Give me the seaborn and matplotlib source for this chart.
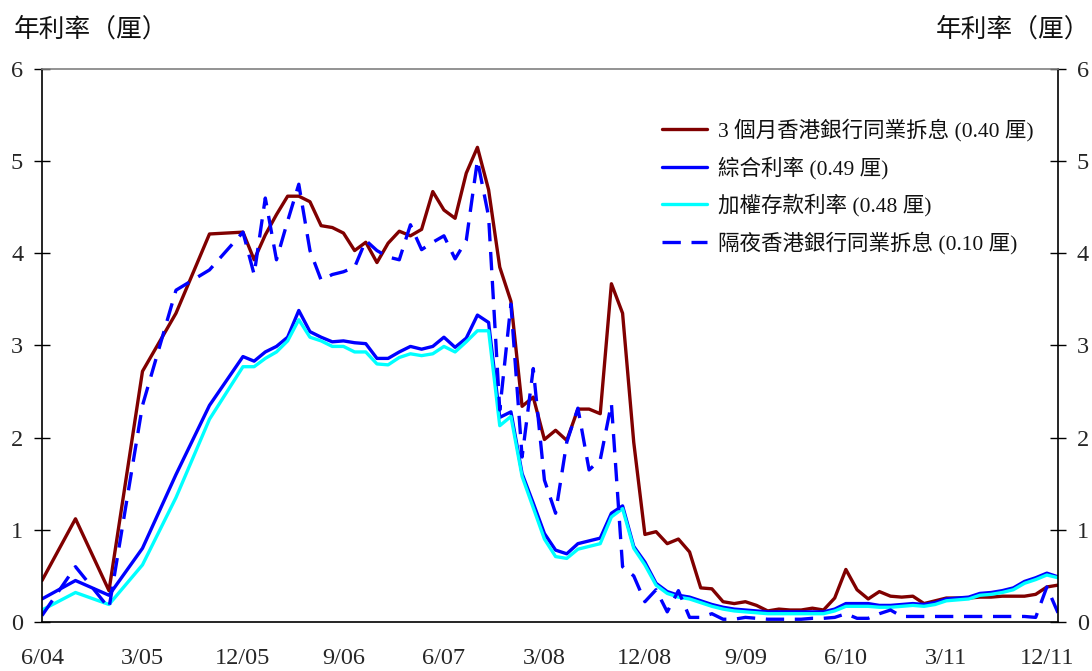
import matplotlib
matplotlib.use("Agg")
import matplotlib.pyplot as plt
import seaborn as sns
import pandas as pd
import numpy as np
from matplotlib.ticker import FixedLocator

# ---------------- data ----------------
periods = (["2004-06", "2004-09", "2004-12", "2005-03", "2005-06", "2005-09"] +
           [f"{y}-{m:02d}" for y in range(2005, 2013) for m in range(1, 13)
            if (y, m) >= (2005, 12) and (y, m) <= (2012, 1)])

hibor_3m = [0.45, 1.12, 0.34, 2.72, 3.35, 4.21,
            4.23, 3.93, 4.20, 4.42, 4.62, 4.62, 4.56, 4.30, 4.28, 4.22, 4.03, 4.12,
            3.90, 4.11, 4.24, 4.19, 4.26, 4.67, 4.47, 4.38, 4.87, 5.15, 4.69, 3.85,
            3.48, 2.34, 2.44, 1.98, 2.08, 1.97, 2.31, 2.31, 2.26, 3.67, 3.35, 1.95,
            0.95, 0.98, 0.85, 0.90, 0.76, 0.37, 0.36, 0.22, 0.20, 0.22, 0.18, 0.12,
            0.14, 0.13, 0.13, 0.15, 0.13, 0.26, 0.57, 0.35, 0.25, 0.33, 0.28, 0.27,
            0.28, 0.20, 0.23, 0.26, 0.26, 0.26, 0.27, 0.27, 0.28, 0.28, 0.28, 0.30,
            0.38, 0.40]

composite = [0.25, 0.45, 0.29, 0.80, 1.60, 2.35,
             2.88, 2.83, 2.93, 2.99, 3.09, 3.38, 3.15, 3.09, 3.04, 3.05, 3.03, 3.02,
             2.86, 2.86, 2.93, 2.99, 2.96, 2.99, 3.09, 2.98, 3.08, 3.33, 3.25, 2.22,
             2.28, 1.61, 1.29, 0.96, 0.78, 0.74, 0.85, 0.88, 0.91, 1.18, 1.26, 0.82,
             0.65, 0.42, 0.33, 0.29, 0.27, 0.23, 0.19, 0.16, 0.14, 0.13, 0.12, 0.11,
             0.11, 0.11, 0.11, 0.11, 0.11, 0.14, 0.20, 0.20, 0.20, 0.18, 0.18, 0.19,
             0.20, 0.19, 0.21, 0.25, 0.26, 0.27, 0.31, 0.32, 0.34, 0.37, 0.44, 0.48,
             0.53, 0.49]

deposit = [0.13, 0.32, 0.19, 0.62, 1.35, 2.20,
           2.77, 2.77, 2.86, 2.93, 3.05, 3.28, 3.09, 3.05, 2.99, 2.99, 2.93, 2.93,
           2.80, 2.79, 2.87, 2.91, 2.89, 2.91, 2.99, 2.93, 3.04, 3.16, 3.16, 2.13,
           2.23, 1.58, 1.24, 0.90, 0.71, 0.69, 0.79, 0.82, 0.85, 1.14, 1.23, 0.80,
           0.62, 0.40, 0.31, 0.27, 0.25, 0.21, 0.17, 0.14, 0.12, 0.11, 0.10, 0.09,
           0.09, 0.09, 0.09, 0.09, 0.09, 0.12, 0.17, 0.17, 0.17, 0.16, 0.16, 0.17,
           0.18, 0.17, 0.19, 0.23, 0.24, 0.25, 0.29, 0.30, 0.32, 0.35, 0.42, 0.46,
           0.51, 0.48]

hibor_on = [0.07, 0.60, 0.15, 2.35, 3.60, 3.82,
            4.23, 3.77, 4.60, 3.93, 4.35, 4.75, 4.03, 3.71, 3.77, 3.80, 3.85, 4.14,
            4.03, 3.96, 3.93, 4.31, 4.04, 4.12, 4.19, 3.94, 4.14, 5.01, 4.40, 2.30,
            3.45, 1.79, 2.75, 1.54, 1.18, 1.95, 2.32, 1.65, 1.76, 2.37, 0.60, 0.50,
            0.22, 0.35, 0.11, 0.34, 0.05, 0.05, 0.09, 0.03, 0.03, 0.05, 0.04, 0.03,
            0.03, 0.03, 0.03, 0.04, 0.04, 0.05, 0.09, 0.04, 0.04, 0.09, 0.13, 0.06,
            0.06, 0.06, 0.06, 0.06, 0.06, 0.06, 0.06, 0.06, 0.06, 0.06, 0.06, 0.05,
            0.38, 0.10]

series_labels = ["3 個月香港銀行同業拆息 (0.40 厘)",
                 "綜合利率 (0.49 厘)",
                 "加權存款利率 (0.48 厘)",
                 "隔夜香港銀行同業拆息 (0.10 厘)"]
x_tick_labels = ["6/04", "3/05", "12/05", "9/06", "6/07", "3/08",
                 "12/08", "9/09", "6/10", "3/11", "12/11"]
y_ticks = [0, 1, 2, 3, 4, 5, 6]
axis_title = "年利率（厘）"

# ---------------- build frame ----------------
def month_index(p):
    y, m = map(int, p.split("-"))
    return (y - 2004) * 12 + (m - 6)

mi = [month_index(p) for p in periods]
df = pd.DataFrame({"m": mi, "h3": hibor_3m, "comp": composite,
                   "dep": deposit, "on": hibor_on})

# ---------------- style ----------------
sns.set_style("white")
FAM = ["Liberation Serif", "Noto Sans CJK TC", "DejaVu Sans"]
plt.rcParams["font.family"] = FAM

W, H = 1092, 671
fig = plt.figure(figsize=(W / 100, H / 100), dpi=100)
L, R, T, B = 42, 1058, 69, 622
ax = fig.add_axes([L / W, 1 - B / H, (R - L) / W, (B - T) / H])

lw = 2.4
sns.lineplot(data=df, x="m", y="h3", ax=ax, color="#800000", lw=lw, label=series_labels[0])
sns.lineplot(data=df, x="m", y="comp", ax=ax, color="#0000FF", lw=lw, label=series_labels[1])
sns.lineplot(data=df, x="m", y="dep", ax=ax, color="#00FFFF", lw=lw, label=series_labels[2])
sns.lineplot(data=df, x="m", y="on", ax=ax, color="#0000FF", lw=lw, label=series_labels[3])
ax.lines[3].set_dashes((5.5, 3.2))

ax.set_xlim(0, 91)
ax.set_ylim(0, 6)
ax.set_xlabel("")
ax.set_ylabel("")

ax.xaxis.set_major_locator(FixedLocator(list(range(0, 91, 9))))
ax.set_xticklabels(x_tick_labels)
ax.xaxis.set_minor_locator(FixedLocator([v for v in range(0, 92, 3) if v % 9 != 0]))
ax.set_yticks(y_ticks)

ax.tick_params(axis="x", which="both", direction="in", length=5.5, width=1.0,
               color="black", labelsize=17.5, pad=19)
ax.tick_params(axis="y", which="both", direction="inout", length=11, width=1.0,
               color="black", labelsize=17.5, pad=8, left=True, right=True,
               labelleft=True, labelright=True)

for s in ["left", "right", "bottom"]:
    ax.spines[s].set_color("black")
    ax.spines[s].set_linewidth(1.2)
ax.spines["top"].set_color("#808080")
ax.spines["top"].set_linewidth(1.2)
ax.grid(False)

fig.text(14 / W, 1 - 30 / H, axis_title, fontsize=18.5, family=["Noto Sans CJK TC"],
         ha="left", va="center", color="#111111")
fig.text(1090 / W, 1 - 30 / H, axis_title, fontsize=18.5, family=["Noto Sans CJK TC"],
         ha="right", va="center", color="#111111")

leg = ax.legend(loc="upper left", bbox_to_anchor=(662 / W, 1 - 119 / H),
                bbox_transform=fig.transFigure, frameon=False, fontsize=15.5,
                handlelength=2.1, handletextpad=0.5, labelspacing=0.68,
                borderaxespad=0, borderpad=0)
for t in leg.get_texts():
    t.set_color("#111111")

fig.savefig("out.png", dpi=100)
